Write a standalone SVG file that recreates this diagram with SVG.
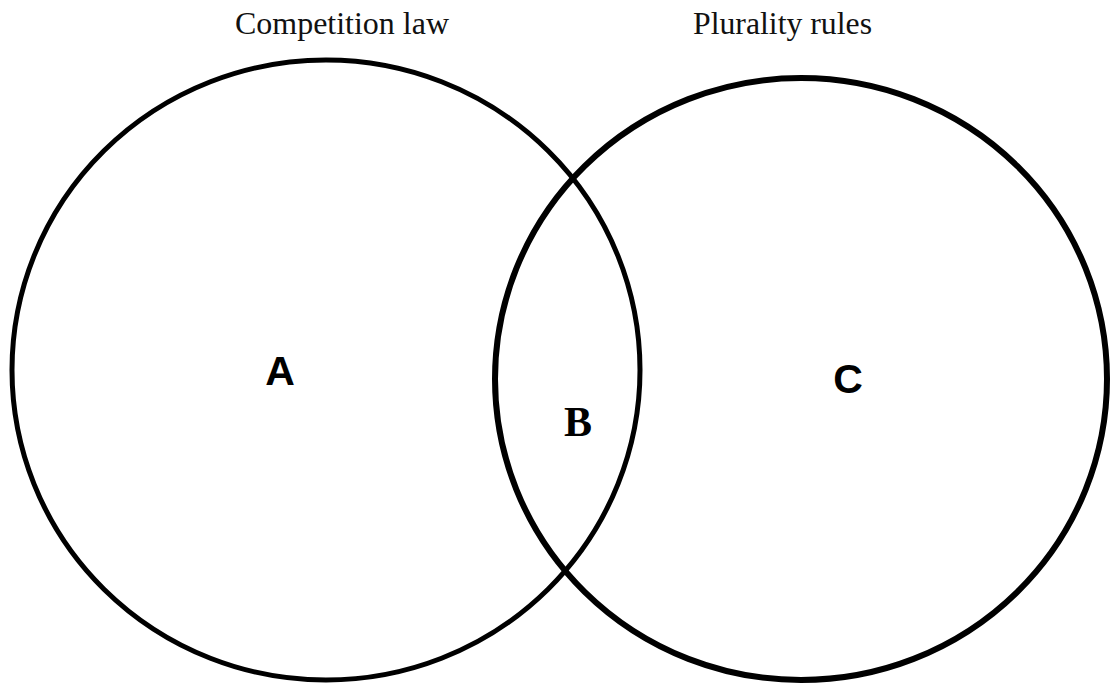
<svg xmlns="http://www.w3.org/2000/svg" width="1110" height="685" viewBox="0 0 1110 685">
<style>
.c{fill:none;stroke:#000}
.t{font-family:"Liberation Serif",serif;font-size:31px;fill:#111}
.sans{font-family:"Liberation Sans",Arial,sans-serif;font-weight:bold;font-size:41px;fill:#000;text-anchor:middle}
.serif{font-family:"Liberation Serif",serif;font-weight:bold;font-size:42px;fill:#000;text-anchor:middle}
</style>
<rect width="1110" height="685" fill="#fff"/>
<g id="competition">
<ellipse class="c" cx="326" cy="370" rx="314" ry="310" stroke-width="5"/>
<text class="t" x="235" y="34" textLength="214" lengthAdjust="spacingAndGlyphs">Competition law</text>
<text class="sans" x="280" y="385">A</text>
</g>
<g id="plurality">
<ellipse class="c" cx="801" cy="379" rx="306" ry="301" stroke-width="6"/>
<text class="t" x="693" y="34" textLength="179" lengthAdjust="spacingAndGlyphs">Plurality rules</text>
<text class="sans" x="848" y="393">C</text>
</g>
<g id="overlap">
<text class="serif" x="578" y="436">B</text>
</g>
<g id="connectors"></g>
</svg>
